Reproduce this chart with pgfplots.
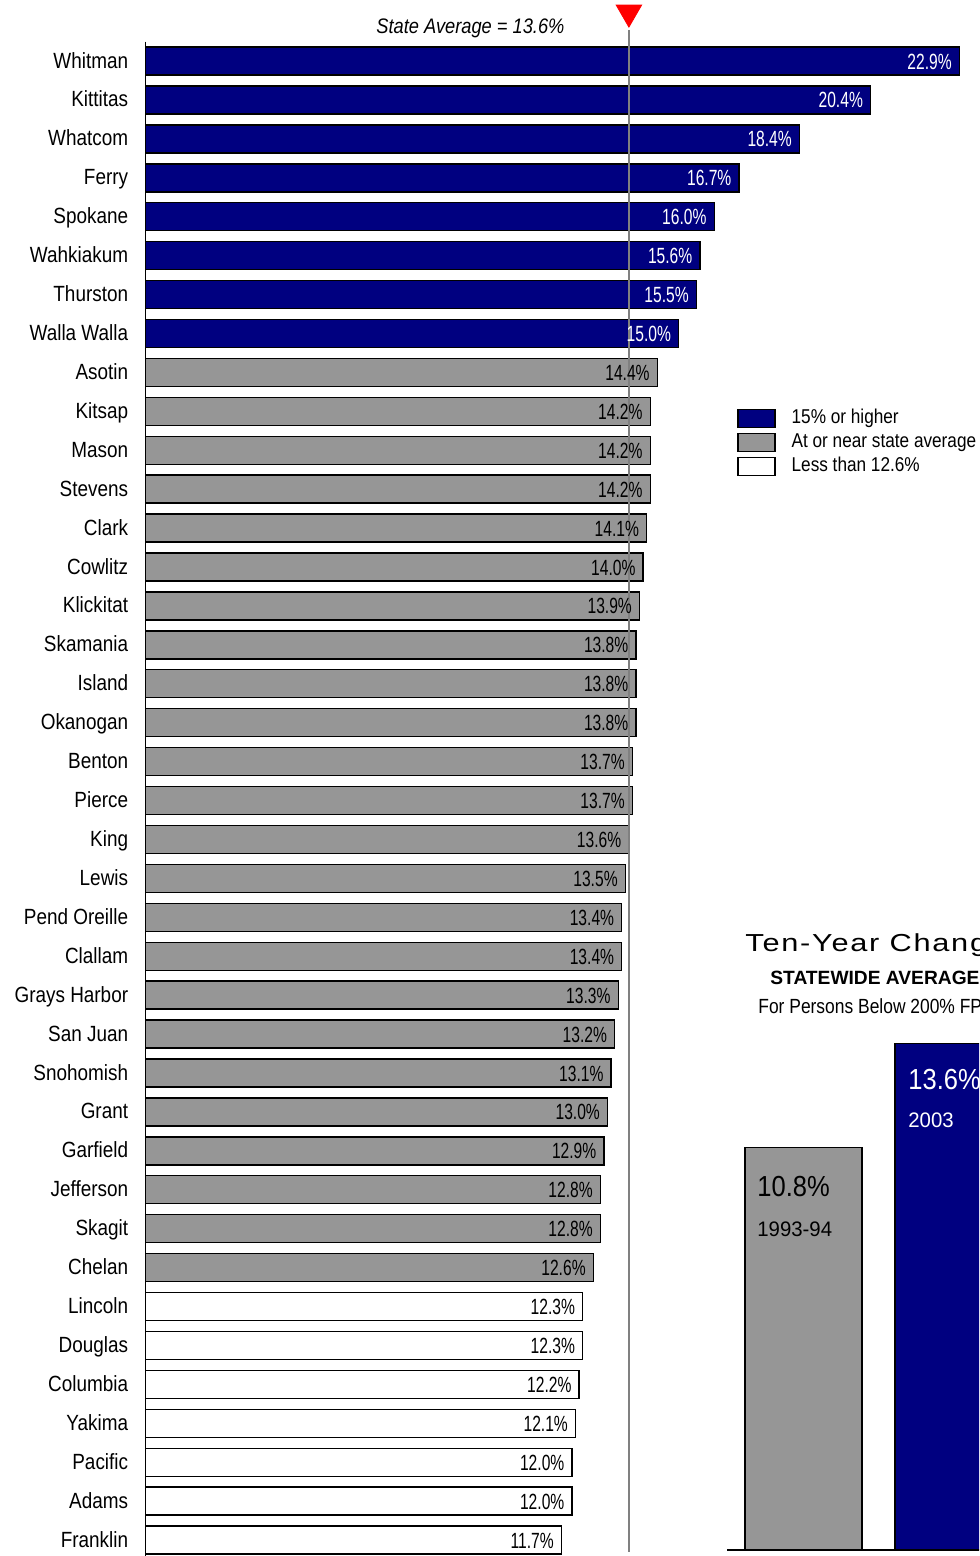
\documentclass[border=0pt]{standalone}
\usepackage{pgfplots}
\pgfplotsset{compat=1.18}
\usepackage{fontspec}
\setmainfont{Liberation Sans}
\newfontfamily\labfont{Liberation Sans}[FakeStretch=0.86]
\newfontfamily\valfont{Liberation Sans}[FakeStretch=0.71]
\newfontfamily\legfont{Liberation Sans}[FakeStretch=0.86]
\newfontfamily\avgfont{Liberation Sans}[FakeStretch=0.87]
\newfontfamily\titfont{Liberation Sans}[FakeStretch=1.25,LetterSpace=7]
\newfontfamily\subfont{Liberation Sans}[FakeStretch=0.85]
\newfontfamily\bigfont{Liberation Sans}[FakeStretch=0.88]
\newfontfamily\yrfont{Liberation Sans}[FakeStretch=0.97]
\definecolor{navybar}{RGB}{0,0,128}
\definecolor{graybar}{RGB}{150,150,150}
\begin{document}
\begin{tikzpicture}
\useasboundingbox (0,0) rectangle (489.5pt,778pt);
\clip (0,0) rectangle (489.5pt,778pt);
% ---------------- main chart ----------------
\begin{axis}[
  at={(72.75pt,0pt)}, anchor=south west,
  scale only axis, width=416.75pt, height=757.2pt,
  xmin=0, xmax=23.45, ymin=-0.5, ymax=38.41, y dir=reverse,
  axis x line=none, axis y line*=left,
  y axis line style={-, line width=0.75pt, black},
  xtick=\empty,
  ytick={0,...,38},
  yticklabels={Whitman,Kittitas,Whatcom,Ferry,Spokane,Wahkiakum,Thurston,Walla Walla,Asotin,Kitsap,Mason,Stevens,Clark,Cowlitz,Klickitat,Skamania,Island,Okanogan,Benton,Pierce,King,Lewis,Pend Oreille,Clallam,Grays Harbor,San Juan,Snohomish,Grant,Garfield,Jefferson,Skagit,Chelan,Lincoln,Douglas,Columbia,Yakima,Pacific,Adams,Franklin},
  yticklabel style={font=\labfont\fontsize{11}{11}\selectfont, anchor=base east, inner sep=0pt, xshift=-8.5pt, yshift=-3.5pt},
  major tick length=0pt,
  clip=false,
  point meta=x,
  /pgf/number format/assume math mode=true,
  legend style={at={(axis description cs:0.7097,0.758)}, anchor=north west, draw=none, fill=none, inner sep=0pt,
    font=\legfont\fontsize{10}{10}\selectfont,
    nodes={inner sep=0pt, text height=7.5pt, text depth=2.5pt},
    row sep=2pt,
    /tikz/every odd column/.append style={column sep=8pt}},
  legend cell align=left,
  legend image code/.code={\draw[#1, line width=0.6pt] (0pt,-4.5pt) rectangle (18.5pt,4.5pt);},
]
\addplot[xbar, bar shift=0pt, bar width=14pt, fill=navybar, draw=black, line width=0.7pt,
  nodes near coords={\pgfmathprintnumber[fixed,fixed zerofill,precision=1,assume math mode=true]{\pgfplotspointmeta}\%},
  every node near coord/.append style={anchor=base east, inner sep=0pt, xshift=-3.5pt, yshift=-4pt, text=white, font=\valfont\fontsize{11}{11}\selectfont}]
  coordinates {(22.9,0) (20.4,1) (18.4,2) (16.7,3) (16.0,4) (15.6,5) (15.5,6) (15.0,7)};
\addlegendentry{15\% or higher}
\addplot[xbar, bar shift=0pt, bar width=14pt, fill=graybar, draw=black, line width=0.7pt,
  nodes near coords={\pgfmathprintnumber[fixed,fixed zerofill,precision=1,assume math mode=true]{\pgfplotspointmeta}\%},
  every node near coord/.append style={anchor=base east, inner sep=0pt, xshift=-3.5pt, yshift=-4pt, text=black, font=\valfont\fontsize{11}{11}\selectfont}]
  coordinates {(14.4,8) (14.2,9) (14.2,10) (14.2,11) (14.1,12) (14.0,13) (13.9,14) (13.8,15) (13.8,16) (13.8,17) (13.7,18) (13.7,19) (13.6,20) (13.5,21) (13.4,22) (13.4,23) (13.3,24) (13.2,25) (13.1,26) (13.0,27) (12.9,28) (12.8,29) (12.8,30) (12.6,31)};
\addlegendentry{At or near state average}
\addplot[xbar, bar shift=0pt, bar width=14pt, fill=white, draw=black, line width=0.7pt,
  nodes near coords={\pgfmathprintnumber[fixed,fixed zerofill,precision=1,assume math mode=true]{\pgfplotspointmeta}\%},
  every node near coord/.append style={anchor=base east, inner sep=0pt, xshift=-3.5pt, yshift=-4pt, text=black, font=\valfont\fontsize{11}{11}\selectfont}]
  coordinates {(12.3,32) (12.3,33) (12.2,34) (12.1,35) (12.0,36) (12.0,37) (11.7,38)};
\addlegendentry{Less than 12.6\%}
% state average line and marker
\addplot[sharp plot, forget plot, draw=black!50, line width=0.8pt] coordinates {(13.6,-0.8) (13.6,38.31)};
\addplot[only marks, forget plot, mark=triangle*, mark size=7.35pt, mark options={rotate=180, fill=red, draw=red}] coordinates {(13.6,-1.25)};
\end{axis}
% ---------------- inset chart ----------------
\begin{axis}[
  at={(363.5pt,3pt)}, anchor=south west,
  scale only axis, width=126pt, height=270pt,
  xmin=-0.51, xmax=1.17, ymin=0, ymax=14.5,
  axis x line=bottom, axis y line=none,
  x axis line style={-, line width=0.75pt, black},
  xtick=\empty, ytick=\empty,
  clip=false,
]
\addplot[ybar, bar shift=0pt, bar width=58.5pt, fill=graybar, draw=black, line width=0.7pt] coordinates {(0,10.8)};
\addplot[ybar, bar shift=0pt, bar width=58.5pt, fill=navybar, draw=black, line width=0.7pt] coordinates {(1,13.6)};
\end{axis}
% ---------------- texts ----------------
\node[anchor=base west, inner sep=0pt, font=\avgfont\itshape\fontsize{10.5}{10.5}\selectfont] at (188pt,761pt) {State Average = 13.6\%};
\node[anchor=base west, inner sep=0pt, font=\titfont\fontsize{12.3}{12.3}\selectfont] at (372.5pt,302pt) {Ten-Year Change};
\node[anchor=base west, inner sep=0pt, font=\bfseries\fontsize{9.6}{9.6}\selectfont] at (385pt,285.5pt) {STATEWIDE AVERAGE};
\node[anchor=base west, inner sep=0pt, font=\subfont\fontsize{10.25}{10.25}\selectfont] at (379pt,271pt) {For Persons Below 200\% FPL};
\node[anchor=base west, inner sep=0pt, font=\bigfont\fontsize{14.5}{14.5}\selectfont] at (378.5pt,179.5pt) {10.8\%};
\node[anchor=base west, inner sep=0pt, font=\yrfont\fontsize{10.5}{10.5}\selectfont] at (378.5pt,159.5pt) {1993-94};
\node[anchor=base west, inner sep=0pt, text=white, font=\bigfont\fontsize{14.5}{14.5}\selectfont] at (454pt,233pt) {13.6\%};
\node[anchor=base west, inner sep=0pt, text=white, font=\yrfont\fontsize{10.5}{10.5}\selectfont] at (454pt,214pt) {2003};
\end{tikzpicture}
\end{document}
